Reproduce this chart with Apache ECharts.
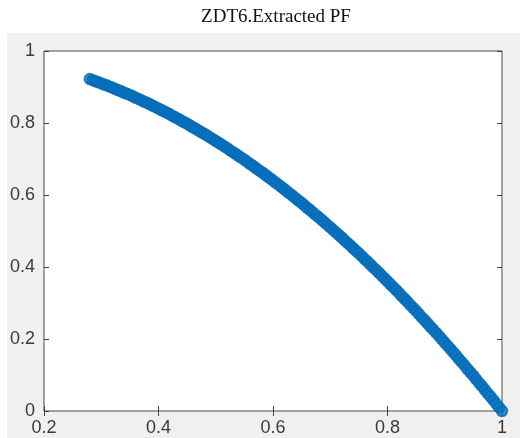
<!DOCTYPE html>
<html>
<head>
<meta charset="utf-8">
<script src="https://cdn.jsdelivr.net/npm/echarts@6/dist/echarts.min.js"></script>
<style>
  html, body { margin: 0; padding: 0; background: #ffffff; }
  #chart { width: 531px; height: 438px; }
</style>
</head>
<body>
<div id="chart"></div>
<script>
// Extracted Pareto front of ZDT6: objective f1 and objective f2
const f1 = [
  0.280, 0.285, 0.290, 0.295, 0.300, 0.305, 0.310, 0.315, 0.320, 0.325,
  0.330, 0.335, 0.340, 0.345, 0.350, 0.355, 0.360, 0.365, 0.370, 0.375,
  0.380, 0.385, 0.390, 0.395, 0.400, 0.405, 0.410, 0.415, 0.420, 0.425,
  0.430, 0.435, 0.440, 0.445, 0.450, 0.455, 0.460, 0.465, 0.470, 0.475,
  0.480, 0.485, 0.490, 0.495, 0.500, 0.505, 0.510, 0.515, 0.520, 0.525,
  0.530, 0.535, 0.540, 0.545, 0.550, 0.555, 0.560, 0.565, 0.570, 0.575,
  0.580, 0.585, 0.590, 0.595, 0.600, 0.605, 0.610, 0.615, 0.620, 0.625,
  0.630, 0.635, 0.640, 0.645, 0.650, 0.655, 0.660, 0.665, 0.670, 0.675,
  0.680, 0.685, 0.690, 0.695, 0.700, 0.705, 0.710, 0.715, 0.720, 0.725,
  0.730, 0.735, 0.740, 0.745, 0.750, 0.755, 0.760, 0.765, 0.770, 0.775,
  0.780, 0.785, 0.790, 0.795, 0.800, 0.805, 0.810, 0.815, 0.820, 0.825,
  0.830, 0.835, 0.840, 0.845, 0.850, 0.855, 0.860, 0.865, 0.870, 0.875,
  0.880, 0.885, 0.890, 0.895, 0.900, 0.905, 0.910, 0.915, 0.920, 0.925,
  0.930, 0.935, 0.940, 0.945, 0.950, 0.955, 0.960, 0.965, 0.970, 0.975,
  0.980, 0.985, 0.990, 0.995, 1.000
];
const f2 = [
  0.922, 0.919, 0.916, 0.913, 0.910, 0.907, 0.904, 0.901, 0.898, 0.894,
  0.891, 0.888, 0.884, 0.881, 0.878, 0.874, 0.870, 0.867, 0.863, 0.859,
  0.856, 0.852, 0.848, 0.844, 0.840, 0.836, 0.832, 0.828, 0.824, 0.819,
  0.815, 0.811, 0.806, 0.802, 0.798, 0.793, 0.788, 0.784, 0.779, 0.774,
  0.770, 0.765, 0.760, 0.755, 0.750, 0.745, 0.740, 0.735, 0.730, 0.724,
  0.719, 0.714, 0.708, 0.703, 0.698, 0.692, 0.686, 0.681, 0.675, 0.669,
  0.664, 0.658, 0.652, 0.646, 0.640, 0.634, 0.628, 0.622, 0.616, 0.609,
  0.603, 0.597, 0.590, 0.584, 0.578, 0.571, 0.564, 0.558, 0.551, 0.544,
  0.538, 0.531, 0.524, 0.517, 0.510, 0.503, 0.496, 0.489, 0.482, 0.474,
  0.467, 0.460, 0.452, 0.445, 0.438, 0.430, 0.422, 0.415, 0.407, 0.399,
  0.392, 0.384, 0.376, 0.368, 0.360, 0.352, 0.344, 0.336, 0.328, 0.319,
  0.311, 0.303, 0.294, 0.286, 0.278, 0.269, 0.260, 0.252, 0.243, 0.234,
  0.226, 0.217, 0.208, 0.199, 0.190, 0.181, 0.172, 0.163, 0.154, 0.144,
  0.135, 0.126, 0.116, 0.107, 0.098, 0.088, 0.078, 0.069, 0.059, 0.049,
  0.040, 0.030, 0.020, 0.010, 0.000
];
const xTicks = [0.2, 0.4, 0.6, 0.8, 1];
const yTicks = [0, 0.2, 0.4, 0.6, 0.8, 1];
const titleText = 'ZDT6.Extracted PF';

const points = f1.map((x, i) => [x, f2[i]]);
const fmt = v => (Math.abs(v - Math.round(v)) < 1e-9 ? String(Math.round(v)) : String(+v.toFixed(1)));

const labelStyle = {
  color: '#3a3a3a',
  fontFamily: 'Liberation Sans, Arial, sans-serif',
  fontSize: 18
};
const tickStyle = { show: true, inside: true, length: 5, lineStyle: { color: '#404040', width: 1 } };

const chart = echarts.init(document.getElementById('chart'), null, { renderer: 'canvas' });
chart.setOption({
  backgroundColor: '#ffffff',
  animation: false,
  graphic: [{
    type: 'rect',
    z: -10,
    shape: { x: 7, y: 33, width: 513, height: 405 },
    style: { fill: '#f0f0f0' },
    silent: true
  }],
  title: {
    text: titleText,
    left: 271,
    textAlign: 'center',
    top: 3,
    textStyle: {
      fontFamily: 'Liberation Serif, Times New Roman, serif',
      fontWeight: 'normal',
      fontSize: 19,
      color: '#111111'
    }
  },
  grid: {
    left: 44, right: 29, top: 51, bottom: 27,
    show: true,
    backgroundColor: '#ffffff',
    borderColor: '#4a4a4a',
    borderWidth: 1
  },
  xAxis: [{
    type: 'value', min: xTicks[0], max: xTicks[xTicks.length - 1], interval: 0.2,
    position: 'bottom',
    axisLine: { show: false },
    axisTick: tickStyle,
    splitLine: { show: false },
    axisLabel: Object.assign({ margin: 8, formatter: fmt }, labelStyle)
  }, {
    type: 'value', min: xTicks[0], max: xTicks[xTicks.length - 1], interval: 0.2,
    position: 'top',
    axisLine: { show: false },
    axisTick: tickStyle,
    splitLine: { show: false },
    axisLabel: { show: false }
  }],
  yAxis: [{
    type: 'value', min: yTicks[0], max: yTicks[yTicks.length - 1], interval: 0.2,
    position: 'left',
    axisLine: { show: false },
    axisTick: tickStyle,
    splitLine: { show: false },
    axisLabel: Object.assign({ margin: 9, formatter: fmt, padding: [6, 0, 0, 0] }, labelStyle)
  }, {
    type: 'value', min: yTicks[0], max: yTicks[yTicks.length - 1], interval: 0.2,
    position: 'right',
    axisLine: { show: false },
    axisTick: tickStyle,
    splitLine: { show: false },
    axisLabel: { show: false }
  }],
  series: [{
    type: 'scatter',
    xAxisIndex: 0,
    yAxisIndex: 0,
    data: points,
    symbol: 'circle',
    symbolSize: 11,
    clip: false,
    itemStyle: {
      color: '#0a72bd',
      borderColor: '#0069b8',
      borderWidth: 1.5
    }
  }]
});
</script>
</body>
</html>
